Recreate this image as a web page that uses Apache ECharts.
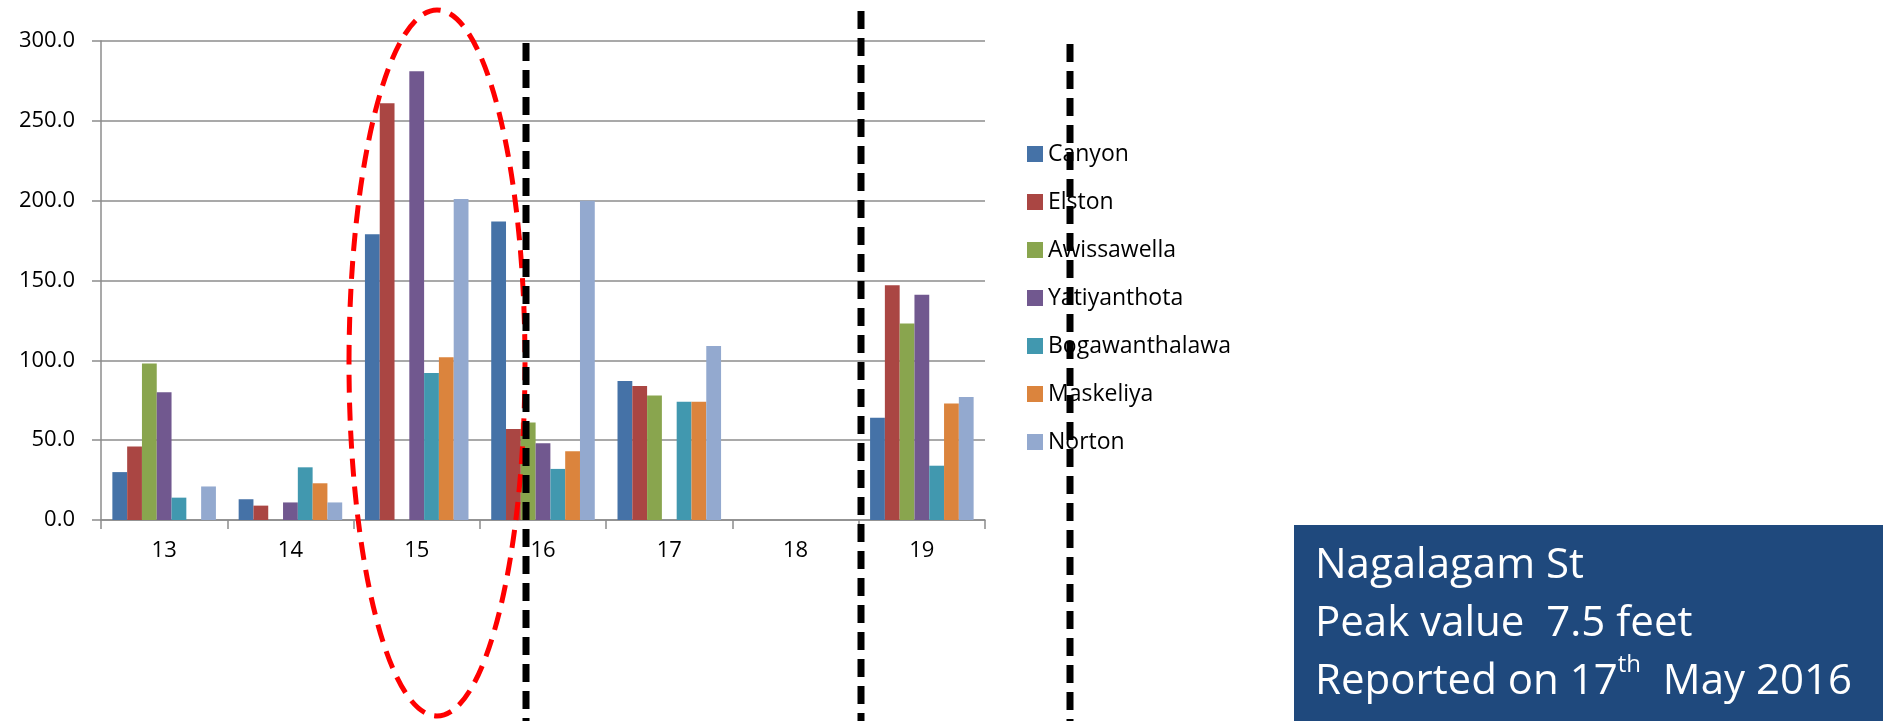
<!DOCTYPE html>
<html>
<head>
<meta charset="utf-8">
<script src="https://cdn.jsdelivr.net/npm/echarts@6/dist/echarts.min.js"></script>
<style>
  html, body { margin: 0; padding: 0; background: #fff; }
  #chart { width: 1883px; height: 721px; }
</style>
</head>
<body>
<div id="chart"></div>
<script>
// Daily rainfall by station (mm)
const days = ['13', '14', '15', '16', '17', '18', '19'];
const canyon         = [30, 13, 179, 187, 87, null, 64];
const elston         = [46, 9, 261, 57, 84, null, 147];
const awissawella    = [98, null, null, 61, 78, null, 123];
const yatiyanthota   = [80, 11, 281, 48, null, null, 141];
const bogawanthalawa = [14, 33, 92, 32, 74, null, 34];
const maskeliya      = [null, 23, 102, 43, 74, null, 73];
const norton         = [21, 11, 201, 200, 109, null, 77];

const stationNames = ['Canyon', 'Elston', 'Awissawella', 'Yatiyanthota', 'Bogawanthalawa', 'Maskeliya', 'Norton'];
const stationValues = [canyon, elston, awissawella, yatiyanthota, bogawanthalawa, maskeliya, norton];
const stationColors = ['#4572A7', '#AA4643', '#89A54E', '#71588F', '#4198AF', '#DB843D', '#93A9CF'];

const FONT = '"Open Sans", "Noto Sans", sans-serif';
const GRID_COLOR = '#8c8c8c';

const chart = echarts.init(document.getElementById('chart'));

const series = stationNames.map((name, i) => ({
  name: name,
  type: 'bar',
  data: stationValues[i],
  barGap: '0%',
  barCategoryGap: '18%',
  itemStyle: { color: stationColors[i] }
}));

// Dashed black marker lines
const dashStyle = { stroke: '#000', lineWidth: 7, lineDash: [18, 9] };
const markers = [
  { x: 526, y1: 43, y2: 721 },
  { x: 861, y1: 11, y2: 721 },
  { x: 1070, y1: 44, y2: 721 }
].map(m => ({
  type: 'line',
  z: 110,
  shape: { x1: m.x, y1: m.y1, x2: m.x, y2: m.y2 },
  style: dashStyle
}));

chart.setOption({
  backgroundColor: '#ffffff',
  animation: false,
  textStyle: { fontFamily: FONT },
  grid: { left: 101, right: 898, top: 41, bottom: 201, containLabel: false },
  legend: {
    orient: 'vertical',
    left: 1027,
    top: 142,
    padding: 0,
    icon: 'rect',
    itemWidth: 16,
    itemHeight: 16,
    itemGap: 24,
    selectedMode: false,
    textStyle: { fontFamily: FONT, fontSize: 23, lineHeight: 24, color: '#000' },
    data: stationNames
  },
  xAxis: {
    type: 'category',
    data: days,
    axisLine: { lineStyle: { color: GRID_COLOR, width: 1.5 } },
    axisTick: { show: true, length: 9, lineStyle: { color: GRID_COLOR, width: 1.5 } },
    axisLabel: { fontFamily: FONT, fontSize: 22, color: '#000', margin: 20 },
    splitLine: { show: false }
  },
  yAxis: {
    type: 'value',
    min: 0,
    max: 300,
    interval: 50,
    axisLine: { show: true, lineStyle: { color: GRID_COLOR, width: 1.5 } },
    axisTick: { show: true, length: 9, lineStyle: { color: GRID_COLOR, width: 1.5 } },
    axisLabel: {
      fontFamily: FONT, fontSize: 22, color: '#000', margin: 26,
      formatter: v => v.toFixed(1)
    },
    splitLine: { show: true, lineStyle: { color: GRID_COLOR, width: 1.5 } }
  },
  series: series,
  graphic: [
    // highlight around day 15
    {
      type: 'ellipse',
      z: 105,
      shape: { cx: 437, cy: 363, rx: 88, ry: 353 },
      style: { fill: null, stroke: '#ff0000', lineWidth: 5, lineDash: [18, 10] }
    },
    ...markers,
    // station info box
    {
      type: 'rect',
      z: 120,
      shape: { x: 1294, y: 525, width: 589, height: 196 },
      style: { fill: '#1F497D' }
    },
    {
      type: 'text',
      z: 121,
      left: 1315,
      top: 537,
      style: {
        text: 'Nagalagam St\nPeak value  7.5 feet\nReported on 17{sup|th}  May 2016',
        fill: '#fff',
        fontSize: 42,
        fontFamily: FONT,
        lineHeight: 58,
        rich: {
          sup: { fontSize: 24, fontFamily: FONT, fill: '#fff', verticalAlign: 'top', lineHeight: 38 }
        }
      }
    }
  ]
});
</script>
</body>
</html>
